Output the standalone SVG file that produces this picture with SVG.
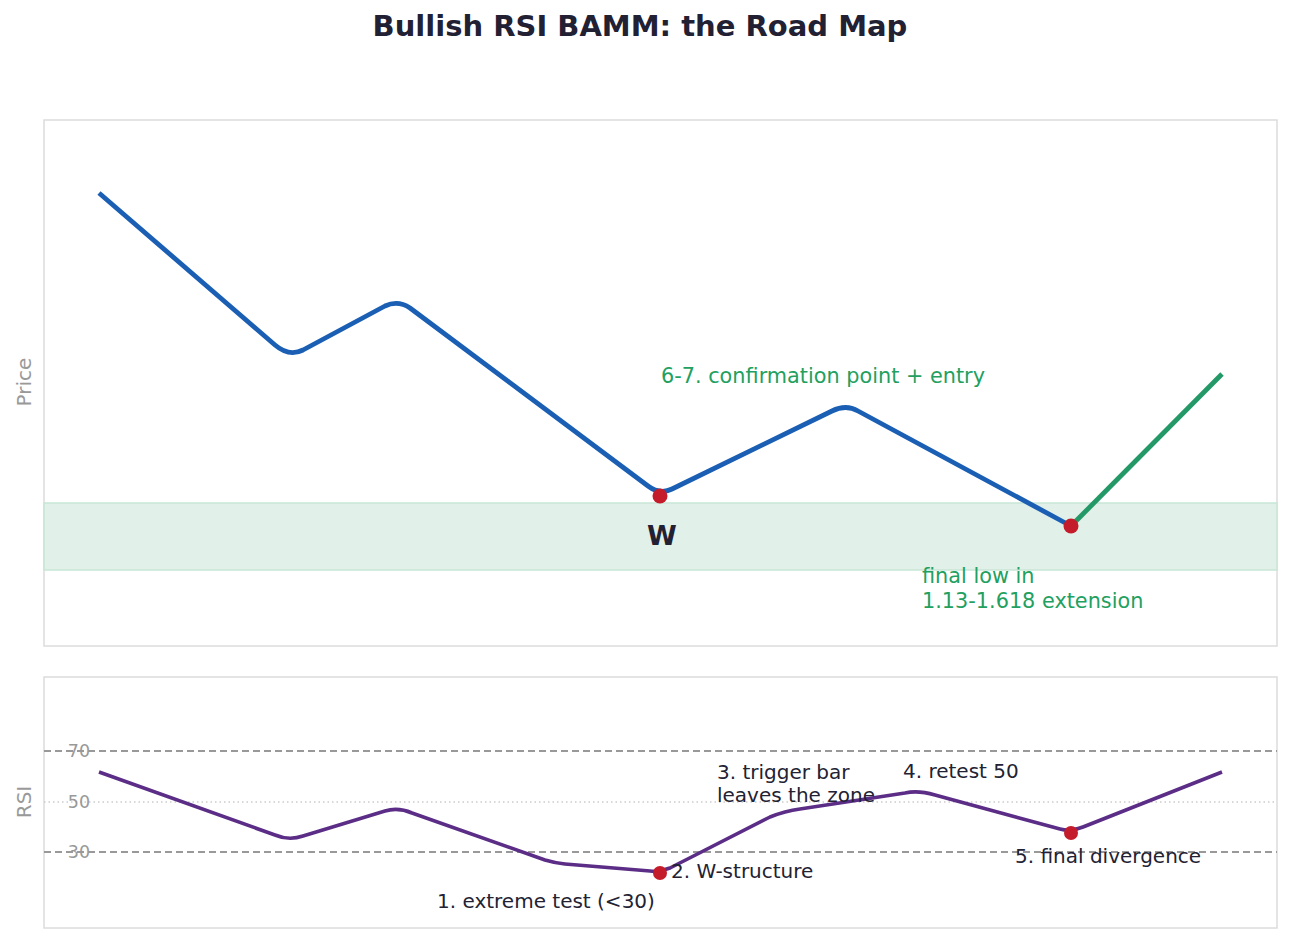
<svg xmlns="http://www.w3.org/2000/svg" width="1291" height="943" viewBox="0 0 1291 943">
<style>
text{font-family:"DejaVu Sans","Liberation Sans",sans-serif}
.frame{fill:#fff;stroke:#dcdcdc;stroke-width:1.5}
.ax{fill:#999;font-size:20px}
.tick{fill:#999;font-size:17.5px}
.ann{fill:#222233;font-size:20px}
.grn{fill:#22a060;font-size:20.8px}
.dot{fill:#c41c2a}
</style>
<rect width="1291" height="943" fill="#fff"/>
<text x="640" y="36" text-anchor="middle" font-size="29" font-weight="bold" fill="#222033">Bullish RSI BAMM: the Road Map</text>
<g id="price-panel">
<rect class="frame" x="44" y="120" width="1233" height="526"/>
<rect x="44" y="503" width="1233" height="67" fill="#e1f0e8" stroke="#c8e6d6" stroke-width="1.5"/>
<text class="ax" transform="translate(31,382) rotate(-90)" text-anchor="middle">Price</text>
</g>
<g id="rsi-panel">
<rect class="frame" x="44" y="677" width="1233" height="251"/>
<line x1="44" y1="751" x2="1277" y2="751" stroke="#999" stroke-width="1.8" stroke-dasharray="7,4"/>
<line x1="44" y1="802" x2="1277" y2="802" stroke="#ccc" stroke-width="1.4" stroke-dasharray="1.5,3"/>
<line x1="44" y1="852" x2="1277" y2="852" stroke="#999" stroke-width="1.8" stroke-dasharray="7,4"/>
<text class="tick" x="79" y="757" text-anchor="middle">70</text>
<text class="tick" x="79" y="808" text-anchor="middle">50</text>
<text class="tick" x="79" y="858" text-anchor="middle">30</text>
<text class="ax" transform="translate(31,802) rotate(-90)" text-anchor="middle">RSI</text>
</g>
<g id="connectors">
<path d="M99,193 L275,345 Q289,357 303,350 L385,306 Q398,300 410,308 L648,486 Q660,495 672,489 L832,411 Q846,404 858,411 L1071,526" fill="none" stroke="#1a5fb4" stroke-width="4.8" stroke-linejoin="round"/>
<path d="M1071,526 L1222,374" fill="none" stroke="#229966" stroke-width="4.8"/>
<path d="M99,772 L275,835 Q289,841 303,836 L385,811 Q398,807 412,813 L545,860 Q555,863 565,864 L650,871 Q660,872 670,868 L770,817 Q785,811 800,809 L905,793 Q918,790 935,795 L1060,829 Q1071,832 1083,827 L1222,772" fill="none" stroke="#5b2d86" stroke-width="3.6" stroke-linejoin="round"/>
</g>
<g id="price-annotations">
<circle class="dot" cx="660" cy="496" r="7.5"/>
<circle class="dot" cx="1071" cy="526" r="7.5"/>
<text x="662" y="545" text-anchor="middle" font-size="27" font-weight="bold" fill="#222033">W</text>
<text class="grn" x="661" y="383">6-7. confirmation point + entry</text>
<text class="grn" x="922" y="583">final low in</text>
<text class="grn" x="922" y="608">1.13-1.618 extension</text>
</g>
<g id="rsi-annotations">
<circle class="dot" cx="660" cy="873" r="7"/>
<circle class="dot" cx="1071" cy="833" r="7"/>
<text class="ann" x="671" y="878">2. W-structure</text>
<text class="ann" x="437" y="908">1. extreme test (&lt;30)</text>
<text class="ann" x="717" y="779">3. trigger bar</text>
<text class="ann" x="717" y="802">leaves the zone</text>
<text class="ann" x="903" y="778">4. retest 50</text>
<text class="ann" x="1015" y="863">5. final divergence</text>
</g>
</svg>
